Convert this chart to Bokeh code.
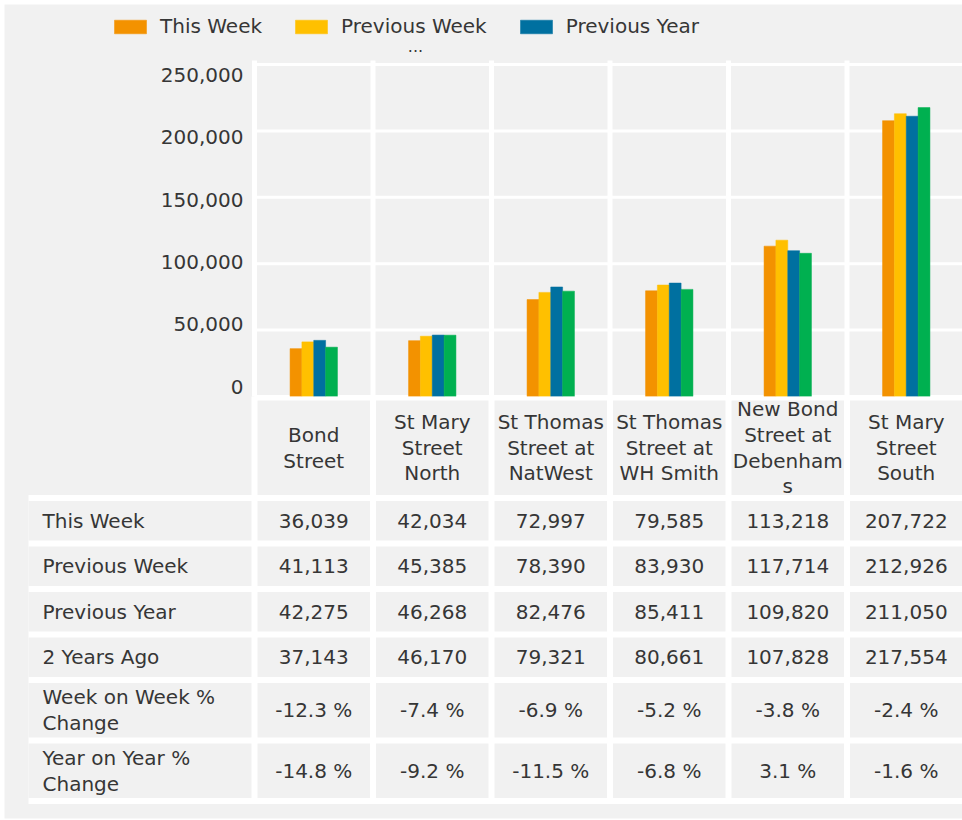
import numpy as np
from bokeh.plotting import figure
from bokeh.models import Range1d, Legend, LegendItem, ColumnDataSource
from bokeh.embed import file_html
from bokeh.resources import INLINE
from bokeh.core.properties import value

# ---------------- data ----------------
categories = ["Bond Street", "St Mary Street North", "St Thomas Street at NatWest",
              "St Thomas Street at WH Smith", "New Bond Street at Debenhams", "St Mary Street South"]
category_labels = ["Bond\nStreet", "St Mary\nStreet\nNorth", "St Thomas\nStreet at\nNatWest",
                   "St Thomas\nStreet at\nWH Smith", "New Bond\nStreet at\nDebenham\ns", "St Mary\nStreet\nSouth"]
series_names = ["This Week", "Previous Week", "Previous Year", "2 Years Ago"]
this_week = [36039, 42034, 72997, 79585, 113218, 207722]
previous_week = [41113, 45385, 78390, 83930, 117714, 212926]
previous_year = [42275, 46268, 82476, 85411, 109820, 211050]
two_years_ago = [37143, 46170, 79321, 80661, 107828, 217554]
week_on_week_pct = [-12.3, -7.4, -6.9, -5.2, -3.8, -2.4]
year_on_year_pct = [-14.8, -9.2, -11.5, -6.8, 3.1, -1.6]
y_ticks = [0, 50000, 100000, 150000, 200000, 250000]
y_tick_labels = ["0", "50,000", "100,000", "150,000", "200,000", "250,000"]
row_labels = ["This Week", "Previous Week", "Previous Year", "2 Years Ago",
              "Week on Week %\nChange", "Year on Year %\nChange"]

# ---------------- style / layout ----------------
BG = "#f1f1f1"
TXT = "#363636"
COLORS = ["#F39200", "#FFC000", "#0070A0", "#00B050"]
FONT = "DejaVu Sans"
FS = "20px"

WIDTH, HEIGHT = 962, 820
FL, FT, FB = 4, 4, 818          # frame left / top / bottom (page px)
X0 = 254                        # page x of first column boundary
COL = 118.5                     # column width (px)
ZERO_Y, TOP_Y = 396, 64         # page y of value 0 and of the axis maximum
YMAX = 250000
LAB_BOT, LAB_TOP = 386, 74.5    # page y of lowest / highest tick label centres

n = len(categories)
idx = np.arange(n)
x_start = (FL - X0) / COL
x_end = (WIDTH - X0) / COL
ppv = (ZERO_Y - TOP_Y) / YMAX                      # px per value unit
y_lo = -(FB - ZERO_Y) / ppv
y_hi = (ZERO_Y - FT) / ppv
lpv = (LAB_BOT - LAB_TOP) / YMAX
lab_lo = -(FB - LAB_BOT) / lpv
lab_hi = (LAB_BOT - FT) / lpv

p = figure(width=WIDTH, height=HEIGHT, x_range=Range1d(x_start, x_end),
           y_range=Range1d(y_lo, y_hi),
           output_backend="svg", toolbar_location=None,
           x_axis_location=None, y_axis_location=None,
           min_border_left=FL, min_border_right=0, min_border_top=FT,
           min_border_bottom=HEIGHT - FB,
           background_fill_color=BG, border_fill_color="white", outline_line_color=None)
p.grid.visible = False
p.extra_y_ranges = {"tab": Range1d(FB, FT), "lab": Range1d(lab_lo, lab_hi)}

# ---------------- chart gridlines ----------------
ext = 4 / ppv
p.segment(x0=idx.tolist() + [n], x1=idx.tolist() + [n], y0=0, y1=YMAX + ext,
          line_color="white", line_width=5)
p.segment(x0=0, x1=x_end + 1, y0=y_ticks, y1=y_ticks, line_color="white", line_width=3)

# tick labels (spread a little tighter than the gridlines, like the reference)
p.text(x=[-11 / COL] * len(y_ticks), y=y_ticks, text=y_tick_labels, y_range_name="lab",
       text_align="right", text_baseline="middle", text_font=value(FONT),
       text_font_size=FS, text_color=TXT)

# ---------------- bars ----------------
series = [this_week, previous_week, previous_year, two_years_ago]
offsets = [-0.15, -0.05, 0.05, 0.15]
renderers = []
for vals, off, col in zip(series, offsets, COLORS):
    src = ColumnDataSource(dict(x=idx + 0.5 + off, top=vals))
    r = p.vbar(x="x", top="top", bottom=0, width=0.1, source=src,
               fill_color=col, line_color=col, line_alpha=0.5, line_width=1)
    renderers.append(r)

legend = Legend(items=[LegendItem(label=series_names[k], renderers=[renderers[k]]) for k in range(3)],
                orientation="horizontal", location=(106, FB - 38),
                glyph_width=40, glyph_height=17, label_standoff=10, spacing=29,
                padding=0, margin=0, border_line_color=None, background_fill_alpha=0,
                label_text_font=FONT, label_text_font_size=FS, label_text_color=TXT)
p.add_layout(legend)
p.text(x=[(415 - X0) / COL], y=[45], text=["..."], y_range_name="tab",
       text_align="center", text_baseline="middle", text_font=value(FONT),
       text_font_size="16px", text_color=TXT)

# ---------------- table ----------------
g = 3 / COL           # half white gap, horizontal (column units)
gv = 3                # half white gap, vertical (px)
label_left = (28 - X0) / COL
text_left = (42 - X0) / COL

top0 = 397
cat_h = 100.5
row_h = [45.5, 45.5, 45.5, 45.5, 60.5, 60.5]
edges = [top0, top0 + cat_h]
for h in row_h:
    edges.append(edges[-1] + h)
edges = np.array(edges)

# white backgrounds
p.quad(left=[-g, label_left], right=[x_end + 1, 0], top=[ZERO_Y, edges[1] - gv],
       bottom=[edges[-1] + gv, edges[-1] + gv], y_range_name="tab",
       fill_color="white", line_color=None)

# category cells
p.quad(left=idx + g, right=idx + 1 - g, top=edges[0] + gv, bottom=edges[1] - gv,
       y_range_name="tab", fill_color=BG, line_color=None)
cat_mid = (edges[0] + edges[1]) / 2
p.text(x=idx + 0.5, y=[cat_mid] * n, text=category_labels, y_range_name="tab",
       text_align="center", text_baseline="middle", text_font=value(FONT),
       text_font_size=FS, text_color=TXT, text_line_height=1.07)

table_rows = [
    ["{:,}".format(v) for v in this_week],
    ["{:,}".format(v) for v in previous_week],
    ["{:,}".format(v) for v in previous_year],
    ["{:,}".format(v) for v in two_years_ago],
    ["{:.1f} %".format(v) for v in week_on_week_pct],
    ["{:.1f} %".format(v) for v in year_on_year_pct],
]

for r, (lab, vals) in enumerate(zip(row_labels, table_rows)):
    top = edges[r + 1] + gv
    bot = edges[r + 2] - gv
    mid = (edges[r + 1] + edges[r + 2]) / 2
    p.quad(left=[label_left], right=[-g], top=[top], bottom=[bot], y_range_name="tab",
           fill_color=BG, line_color=None)
    p.quad(left=idx + g, right=idx + 1 - g, top=top, bottom=bot, y_range_name="tab",
           fill_color=BG, line_color=None)
    p.text(x=[text_left], y=[mid], text=[lab], y_range_name="tab", text_align="left",
           text_baseline="middle", text_font=value(FONT), text_font_size=FS,
           text_color=TXT, text_line_height=1.07)
    p.text(x=idx + 0.5, y=[mid] * n, text=vals, y_range_name="tab", text_align="center",
           text_baseline="middle", text_font=value(FONT), text_font_size=FS, text_color=TXT)

open("out.html", "w").write(file_html(p, INLINE))
